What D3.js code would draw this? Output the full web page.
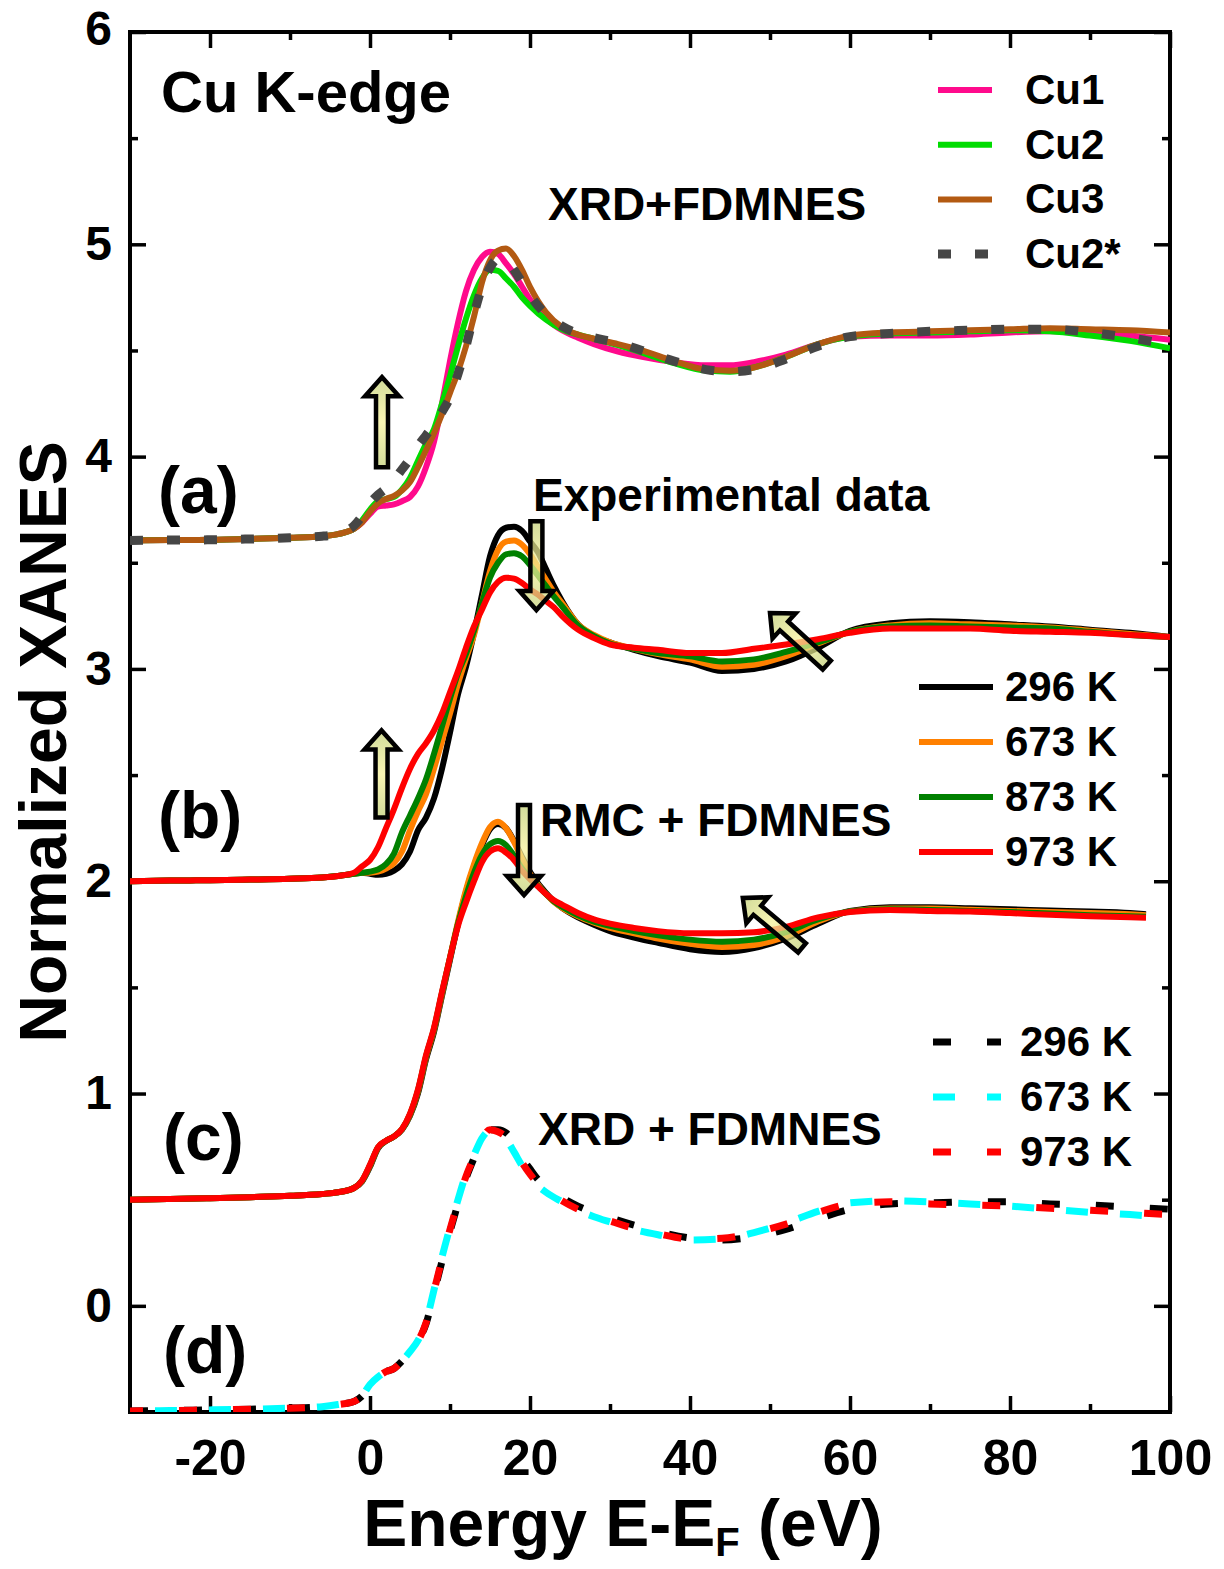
<!DOCTYPE html>
<html>
<head>
<meta charset="utf-8">
<script src="https://cdn.jsdelivr.net/npm/d3@7"></script>
<style>
  body { margin: 0; background: #fff; }
  svg text { font-family: "Liberation Sans", Arial, sans-serif; font-weight: bold; fill: #000; }
</style>
</head>
<body>
<svg id="chart" width="1224" height="1569"></svg>
<script>
'use strict';

// ---- data ----
// (a) XRD + FDMNES, offset +3.6
var energyA = [-30,-25,-20,-15,-10,-6,-4,-2,-1,
  0,1,2,3,4,5,6,7,8,9,10,11,12,13,14,15,16,17,18,19,20,
  22,24,26,28,31,34,38,42,45,48,52,56,60,65,70,75,80,85,90,95,100];
var cu1 = [3.605,3.607,3.608,3.612,3.618,3.625,3.635,3.66,3.69,
  3.73,3.765,3.77,3.775,3.79,3.81,3.86,3.95,4.07,4.25,4.45,4.63,4.78,4.88,4.94,4.965,4.955,4.91,4.86,4.80,4.74,
  4.65,4.595,4.56,4.53,4.495,4.47,4.445,4.43,4.43,4.445,4.48,4.53,4.565,4.57,4.57,4.575,4.585,4.59,4.585,4.57,4.55];
var cu2 = [3.605,3.607,3.608,3.612,3.618,3.625,3.635,3.66,3.70,
  3.75,3.79,3.80,3.81,3.845,3.90,3.98,4.06,4.13,4.25,4.38,4.52,4.65,4.76,4.84,4.88,4.875,4.84,4.80,4.75,4.71,
  4.645,4.60,4.575,4.555,4.525,4.49,4.44,4.405,4.40,4.42,4.47,4.53,4.565,4.58,4.585,4.59,4.595,4.59,4.57,4.545,4.51];
var cu3 = [3.605,3.607,3.608,3.612,3.618,3.625,3.635,3.66,3.69,
  3.74,3.78,3.80,3.815,3.84,3.88,3.95,4.03,4.11,4.20,4.30,4.40,4.52,4.66,4.82,4.925,4.97,4.98,4.945,4.88,4.80,
  4.68,4.61,4.575,4.555,4.53,4.50,4.45,4.41,4.405,4.42,4.47,4.53,4.57,4.585,4.59,4.595,4.60,4.605,4.60,4.595,4.585];
var cu2Star = [3.605,3.607,3.608,3.612,3.618,3.625,3.637,3.675,3.72,
  3.78,3.82,3.85,3.89,3.94,3.99,4.05,4.10,4.15,4.21,4.28,4.39,4.52,4.67,4.80,4.89,4.93,4.925,4.88,4.82,4.76,
  4.67,4.615,4.58,4.56,4.535,4.50,4.45,4.41,4.40,4.41,4.46,4.52,4.565,4.58,4.59,4.595,4.60,4.60,4.585,4.56,4.525];

// (b) experimental data, offset +2
var energyB = [-30,-25,-20,-15,-10,-6,-4,-2,-1,
  0,1,2,3,4,5,6,7,8,9,10,11,12,13,14,15,16,17,18,19,20,21,22,23,24,
  26,28,30,33,36,40,44,48,52,56,60,65,70,75,80,85,90,95,100];
var exp296 = [2.0,2.003,2.005,2.008,2.012,2.018,2.025,2.035,2.04,
  2.035,2.03,2.035,2.05,2.08,2.14,2.24,2.30,2.39,2.53,2.70,2.88,3.01,3.17,3.35,3.53,3.63,3.665,3.67,3.65,3.60,3.55,3.47,3.39,3.32,
  3.21,3.155,3.125,3.09,3.06,3.03,2.99,3.00,3.035,3.10,3.18,3.215,3.225,3.22,3.21,3.20,3.185,3.17,3.15];
var exp673 = [2.0,2.003,2.005,2.008,2.012,2.018,2.025,2.035,2.04,
  2.04,2.045,2.06,2.085,2.14,2.24,2.33,2.41,2.53,2.66,2.79,2.93,3.05,3.16,3.31,3.46,3.56,3.60,3.605,3.585,3.54,3.48,3.42,3.36,3.31,
  3.21,3.16,3.125,3.095,3.07,3.045,3.01,3.02,3.06,3.12,3.175,3.205,3.215,3.21,3.205,3.195,3.18,3.165,3.15];
var exp873 = [2.0,2.003,2.005,2.008,2.012,2.018,2.025,2.035,2.04,
  2.045,2.055,2.08,2.13,2.23,2.31,2.39,2.48,2.60,2.73,2.86,2.98,3.07,3.18,3.31,3.43,3.50,3.54,3.545,3.53,3.49,3.44,3.39,3.34,3.295,
  3.205,3.155,3.12,3.095,3.075,3.06,3.035,3.045,3.08,3.125,3.175,3.20,3.205,3.20,3.195,3.19,3.175,3.16,3.15];
var exp973 = [2.0,2.003,2.005,2.008,2.012,2.018,2.025,2.04,2.07,
  2.10,2.16,2.25,2.34,2.44,2.53,2.60,2.65,2.71,2.79,2.89,2.99,3.10,3.20,3.28,3.36,3.41,3.43,3.425,3.405,3.375,3.35,3.32,3.29,3.25,
  3.185,3.145,3.115,3.10,3.09,3.075,3.075,3.095,3.115,3.14,3.17,3.19,3.19,3.19,3.18,3.175,3.17,3.16,3.15];

// (c) RMC + FDMNES, offset +0.5
var energyC = [-30,-25,-20,-15,-10,-6,-4,-2,-1,
  0,1,2,3,4,5,6,7,8,9,10,11,12,13,14,15,16,17,18,19,20,21,22,23,24,
  26,28,30,33,36,40,44,48,52,56,60,65,70,75,80,85,90,95,97];
var rmc296 = [0.50,0.503,0.507,0.512,0.518,0.527,0.535,0.555,0.585,
  0.655,0.742,0.776,0.797,0.83,0.895,1.00,1.16,1.29,1.46,1.63,1.80,1.95,2.07,2.17,2.245,2.27,2.25,2.19,2.115,2.045,1.99,1.945,1.905,1.875,
  1.83,1.795,1.765,1.735,1.71,1.68,1.667,1.685,1.73,1.80,1.86,1.877,1.877,1.873,1.868,1.862,1.857,1.85,1.845];
var rmc673 = [0.50,0.503,0.507,0.512,0.518,0.527,0.535,0.555,0.588,
  0.66,0.745,0.777,0.798,0.832,0.90,1.01,1.17,1.30,1.47,1.64,1.81,1.96,2.08,2.18,2.255,2.28,2.25,2.185,2.105,2.035,1.983,1.94,1.902,1.875,
  1.835,1.805,1.78,1.755,1.73,1.705,1.69,1.70,1.74,1.81,1.858,1.872,1.872,1.866,1.86,1.855,1.85,1.844,1.84];
var rmc873 = [0.50,0.503,0.507,0.512,0.518,0.527,0.535,0.555,0.589,
  0.662,0.746,0.777,0.798,0.832,0.902,1.015,1.175,1.305,1.475,1.64,1.80,1.93,2.04,2.125,2.175,2.19,2.17,2.12,2.06,2.015,1.977,1.94,1.905,1.88,
  1.84,1.81,1.79,1.765,1.745,1.725,1.715,1.725,1.76,1.82,1.857,1.868,1.865,1.86,1.855,1.848,1.84,1.835,1.833];
var rmc973 = [0.50,0.503,0.507,0.512,0.518,0.527,0.535,0.555,0.59,
  0.665,0.748,0.778,0.798,0.833,0.905,1.02,1.18,1.31,1.48,1.64,1.79,1.90,2.00,2.09,2.14,2.155,2.135,2.10,2.05,2.01,1.975,1.94,1.91,1.89,
  1.85,1.82,1.80,1.78,1.765,1.755,1.755,1.76,1.785,1.83,1.855,1.865,1.86,1.857,1.85,1.842,1.835,1.83,1.828];

// (d) XRD + FDMNES vs temperature, offset -0.5
var energyD = [-30,-25,-20,-15,-10,-6,-4,-2,-1,
  0,1,2,3,4,5,6,7,8,9,10,11,12,13,14,15,16,17,18,19,20,21,22,
  24,26,28,30,33,36,40,44,48,52,56,60,65,70,75,80,85,90,95,100];
var xrd296 = [-0.495,-0.493,-0.49,-0.487,-0.482,-0.475,-0.465,-0.45,-0.425,
  -0.37,-0.335,-0.31,-0.295,-0.26,-0.215,-0.165,-0.085,0.06,0.21,0.35,0.48,0.60,0.695,0.78,0.83,0.83,0.815,0.77,0.70,0.645,0.595,0.56,
  0.51,0.47,0.44,0.415,0.38,0.35,0.32,0.31,0.325,0.36,0.41,0.455,0.48,0.485,0.49,0.49,0.48,0.475,0.465,0.455];
var xrd673 = [-0.495,-0.493,-0.49,-0.487,-0.482,-0.475,-0.465,-0.45,-0.425,
  -0.37,-0.335,-0.31,-0.295,-0.26,-0.215,-0.163,-0.075,0.075,0.23,0.37,0.50,0.62,0.71,0.79,0.825,0.815,0.785,0.725,0.66,0.605,0.565,0.535,
  0.49,0.45,0.42,0.395,0.36,0.335,0.31,0.315,0.345,0.39,0.445,0.485,0.495,0.49,0.48,0.47,0.455,0.44,0.43,0.415];
var xrd973 = [-0.495,-0.493,-0.49,-0.487,-0.482,-0.475,-0.465,-0.45,-0.425,
  -0.37,-0.335,-0.31,-0.295,-0.26,-0.215,-0.165,-0.08,0.07,0.22,0.36,0.49,0.61,0.70,0.785,0.83,0.82,0.795,0.74,0.675,0.62,0.575,0.545,
  0.495,0.455,0.425,0.40,0.365,0.34,0.315,0.318,0.345,0.385,0.44,0.48,0.49,0.48,0.475,0.47,0.46,0.45,0.44,0.43];

var legendCu = ['Cu1', 'Cu2', 'Cu3', 'Cu2*'];
var legendExp = ['296 K', '673 K', '873 K', '973 K'];
var legendXrd = ['296 K', '673 K', '973 K'];

var xMajor = [-20, 0, 20, 40, 60, 80, 100];
var xMinor = [-10, 10, 30, 50, 70, 90];
var yMajor = [0, 1, 2, 3, 4, 5, 6];
var yMinor = [0.5, 1.5, 2.5, 3.5, 4.5, 5.5];

// block arrows: [tail E, tail y, tip E, tip y]
var arrows = [
  [1.5, 3.95, 1.5, 4.374],
  [1.44, 2.30, 1.44, 2.71],
  [20.8, 3.696, 20.8, 3.277],
  [19.25, 2.359, 19.25, 1.935],
  [57.1, 3.018, 50.0, 3.263],
  [54.0, 1.686, 46.6, 1.921]
];

// ---- chart ----
var svg = d3.select('#chart');
var plot = { left: 130, right: 1170, top: 32, bottom: 1412 };

var x = d3.scaleLinear().domain([-30, 100]).range([plot.left, plot.right]);
var y = d3.scaleLinear().domain([-0.5, 6]).range([plot.bottom, plot.top]);

var defs = svg.append('defs');
defs.append('clipPath').attr('id', 'plotClip')
  .append('rect')
  .attr('x', plot.left).attr('y', plot.top)
  .attr('width', plot.right - plot.left).attr('height', plot.bottom - plot.top);

var grad = defs.append('linearGradient').attr('id', 'arrowFill')
  .attr('x1', 0).attr('y1', 0).attr('x2', 1).attr('y2', 0);
grad.append('stop').attr('offset', '0%').attr('stop-color', '#c2cf78');
grad.append('stop').attr('offset', '50%').attr('stop-color', '#f7f29a');
grad.append('stop').attr('offset', '100%').attr('stop-color', '#c2cf78');

function styleAxis(g, fontSize) {
  g.select('.domain').remove();
  g.attr('font-family', null).attr('font-size', null);
  g.selectAll('.tick line').attr('stroke', '#000').attr('stroke-width', 3.5);
  g.selectAll('.tick text').style('font-size', fontSize + 'px');
}

var noLabel = function() { return ''; };

// bottom
svg.append('g').attr('transform', 'translate(0,' + plot.bottom + ')')
  .call(d3.axisBottom(x).tickValues(xMajor).tickSize(-16).tickPadding(27)
    .tickFormat(function(d) { return String(d); }))
  .call(styleAxis, 50);
svg.append('g').attr('transform', 'translate(0,' + plot.bottom + ')')
  .call(d3.axisBottom(x).tickValues(xMinor).tickSize(-8).tickFormat(noLabel))
  .call(styleAxis, 10);
// top
svg.append('g').attr('transform', 'translate(0,' + plot.top + ')')
  .call(d3.axisTop(x).tickValues(xMajor).tickSize(-16).tickFormat(noLabel))
  .call(styleAxis, 10);
svg.append('g').attr('transform', 'translate(0,' + plot.top + ')')
  .call(d3.axisTop(x).tickValues(xMinor).tickSize(-8).tickFormat(noLabel))
  .call(styleAxis, 10);
// left
var yAxisG = svg.append('g').attr('transform', 'translate(' + plot.left + ',0)')
  .call(d3.axisLeft(y).tickValues(yMajor).tickSize(-16).tickPadding(18)
    .tickFormat(function(d) { return String(d); }))
  .call(styleAxis, 48);
// the top label sits a touch above its tick
yAxisG.selectAll('.tick text').filter(function(d) { return d === 6; }).attr('y', -3);
svg.append('g').attr('transform', 'translate(' + plot.left + ',0)')
  .call(d3.axisLeft(y).tickValues(yMinor).tickSize(-8).tickFormat(noLabel))
  .call(styleAxis, 10);
// right
svg.append('g').attr('transform', 'translate(' + plot.right + ',0)')
  .call(d3.axisRight(y).tickValues(yMajor).tickSize(-16).tickFormat(noLabel))
  .call(styleAxis, 10);
svg.append('g').attr('transform', 'translate(' + plot.right + ',0)')
  .call(d3.axisRight(y).tickValues(yMinor).tickSize(-8).tickFormat(noLabel))
  .call(styleAxis, 10);

svg.append('rect')
  .attr('x', plot.left).attr('y', plot.top)
  .attr('width', plot.right - plot.left).attr('height', plot.bottom - plot.top)
  .attr('fill', 'none').attr('stroke', '#000').attr('stroke-width', 4);

// curves
var line = d3.line()
  .x(function(d) { return x(d[0]); })
  .y(function(d) { return y(d[1]); })
  .curve(d3.curveMonotoneX);

var series = [
  { e: energyA, v: cu1, color: '#ff0a8c', width: 6 },
  { e: energyA, v: cu2, color: '#00dc00', width: 6 },
  { e: energyA, v: cu3, color: '#b35a12', width: 6 },
  { e: energyA, v: cu2Star, color: '#464646', width: 9, dash: '13 24' },
  { e: energyB, v: exp296, color: '#000000', width: 6 },
  { e: energyB, v: exp673, color: '#ff8000', width: 6 },
  { e: energyB, v: exp873, color: '#008000', width: 6 },
  { e: energyB, v: exp973, color: '#ff0000', width: 6 },
  { e: energyC, v: rmc296, color: '#000000', width: 6 },
  { e: energyC, v: rmc673, color: '#ff8000', width: 6 },
  { e: energyC, v: rmc873, color: '#008000', width: 6 },
  { e: energyC, v: rmc973, color: '#ff0000', width: 6 },
  { e: energyD, v: xrd296, color: '#000000', width: 7, dash: '18 36', offset: 0 },
  { e: energyD, v: xrd673, color: '#00ffff', width: 7, dash: '22 32', offset: -25 },
  { e: energyD, v: xrd973, color: '#ff0000', width: 7, dash: '18 36', offset: 5 }
];

var curves = svg.append('g').attr('clip-path', 'url(#plotClip)');
series.forEach(function(s) {
  curves.append('path')
    .datum(d3.zip(s.e, s.v))
    .attr('d', line)
    .attr('fill', 'none')
    .attr('stroke', s.color)
    .attr('stroke-width', s.width)
    .attr('stroke-linejoin', 'round')
    .attr('stroke-dasharray', s.dash || null)
    .attr('stroke-dashoffset', s.offset || 0);
});

// arrows
var arrowLayer = svg.append('g');
arrows.forEach(function(a) {
  var x0 = x(a[0]), y0 = y(a[1]), x1 = x(a[2]), y1 = y(a[3]);
  var len = Math.hypot(x1 - x0, y1 - y0);
  var ang = Math.atan2(y1 - y0, x1 - x0) * 180 / Math.PI;
  var sw = 6, hw = 17, hl = 19;
  var pts = [[0, -sw], [len - hl, -sw], [len - hl, -hw], [len, 0], [len - hl, hw], [len - hl, sw], [0, sw]];
  arrowLayer.append('path')
    .attr('d', 'M' + pts.map(function(p) { return p.join(','); }).join('L') + 'Z')
    .attr('transform', 'translate(' + x0 + ',' + y0 + ') rotate(' + ang + ')')
    .attr('fill', 'url(#arrowFill)')
    .attr('fill-opacity', 0.75)
    .attr('stroke', '#000')
    .attr('stroke-width', 4.5)
    .attr('stroke-linejoin', 'miter');
});

// legends
function legend(labels, styles, x0, x1, tx, y0, step) {
  var g = svg.append('g');
  labels.forEach(function(lab, i) {
    var s = styles[i], yy = y0 + i * step;
    g.append('line')
      .attr('x1', x0).attr('x2', x1).attr('y1', yy).attr('y2', yy)
      .attr('stroke', s.color).attr('stroke-width', s.width)
      .attr('stroke-dasharray', s.dash || null);
    g.append('text').attr('x', tx).attr('y', yy + 14)
      .style('font-size', '42px').text(lab);
  });
}
legend(legendCu, series.slice(0, 4), 938, 992, 1025, 90, 54.7);
legend(legendExp, series.slice(4, 8), 919, 993, 1005, 687, 55);
legend(legendXrd, series.slice(12, 15), 933, 1001, 1020, 1042, 55);

// annotations
var notes = [
  { t: 'Cu K-edge', x: 161, y: 112, s: 58 },
  { t: 'XRD+FDMNES', x: 548, y: 220, s: 46 },
  { t: 'Experimental data', x: 533, y: 511, s: 46 },
  { t: 'RMC + FDMNES', x: 540, y: 836, s: 46 },
  { t: 'XRD + FDMNES', x: 538, y: 1145, s: 46 },
  { t: '(a)', x: 158, y: 513, s: 66 },
  { t: '(b)', x: 158, y: 838, s: 66 },
  { t: '(c)', x: 163, y: 1160, s: 66 },
  { t: '(d)', x: 163, y: 1373, s: 66 }
];
notes.forEach(function(n) {
  svg.append('text').attr('x', n.x).attr('y', n.y).style('font-size', n.s + 'px').text(n.t);
});

// axis titles
svg.append('text')
  .attr('transform', 'translate(66,742) rotate(-90)')
  .attr('text-anchor', 'middle')
  .style('font-size', '66px')
  .text('Normalized XANES');

var xt = svg.append('text')
  .attr('x', 623).attr('y', 1546)
  .attr('text-anchor', 'middle')
  .style('font-size', '66px');
xt.append('tspan').text('Energy E-E');
xt.append('tspan').attr('dy', 10).style('font-size', '40px').text('F');
xt.append('tspan').attr('dy', -10).text(' (eV)');
</script>
</body>
</html>
